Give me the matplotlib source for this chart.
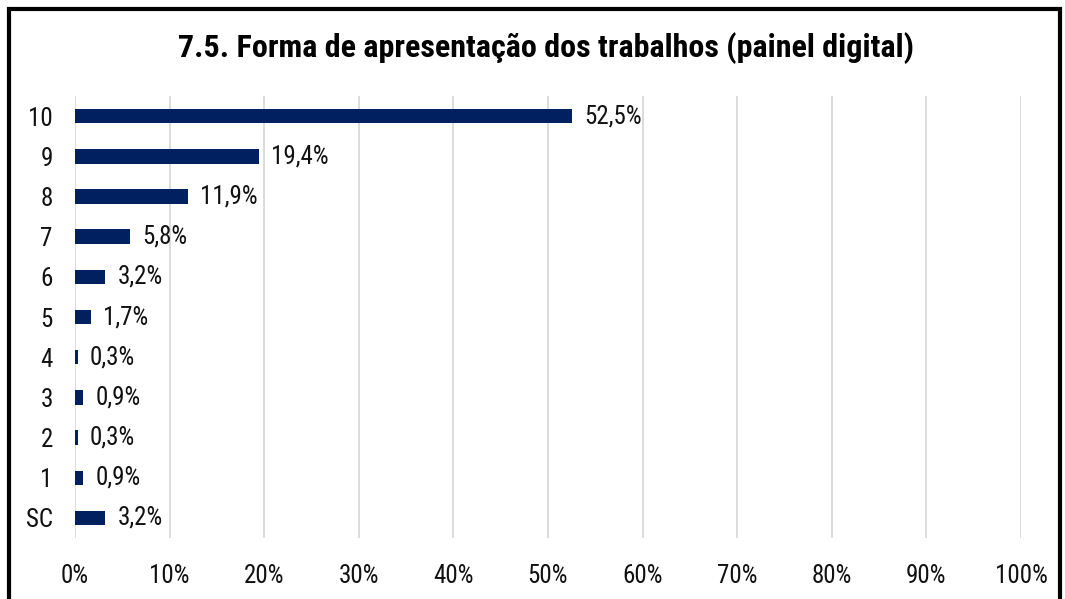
import matplotlib
matplotlib.use("Agg")
import matplotlib.pyplot as plt
from matplotlib.patches import Rectangle

categories = ["SC", "1", "2", "3", "4", "5", "6", "7", "8", "9", "10"]
values = [3.2, 0.9, 0.3, 0.9, 0.3, 1.7, 3.2, 5.8, 11.9, 19.4, 52.5]
xticks = [0, 10, 20, 30, 40, 50, 60, 70, 80, 90, 100]
title = "7.5. Forma de apresentação dos trabalhos (painel digital)"

plt.rcParams['font.family'] = ["Roboto Condensed", "Archivo Narrow", "DejaVu Sans"]
title_family = ["Roboto Condensed", "Asap Condensed", "DejaVu Sans"]

fig = plt.figure(figsize=(10.65, 5.99), dpi=100)
ax = fig.add_axes([0.0704, 0.1018, 0.8883, 0.7379])

navy = "#002060"
fs = 18
y = list(range(len(categories)))
ax.barh(y, values, height=0.36, color=navy, zorder=3)
for yi, v in zip(y, values):
    ax.text(v + 1.3, yi, f"{v:.1f}%".replace(".", ","), va="center", ha="left",
            fontsize=fs, color="#111111")

ax.set_xlim(0, 100)
ax.set_ylim(-0.5, len(categories) - 0.5)
ax.set_yticks(y)
ax.set_yticklabels(categories, fontsize=fs)
ax.set_xticks(xticks)
ax.set_xticklabels([f"{t}%" for t in xticks], fontsize=fs)
ax.tick_params(axis="both", length=0, colors="#111111")
ax.tick_params(axis="y", pad=16)
ax.tick_params(axis="x", pad=19)
ax.grid(axis="x", color="#d9d9d9", linewidth=1.3, zorder=0)
for s in ax.spines.values():
    s.set_visible(False)

fig.text(0.5127, 0.919, title, ha="center", va="center", fontsize=23,
         fontweight="bold", color="#000000", family=title_family)

fig.patches.append(Rectangle((9 / 1065, -0.05), (1060 - 9) / 1065, 1.05 - 9 / 599,
                             transform=fig.transFigure, fill=False,
                             edgecolor="black", linewidth=3, zorder=10))

fig.savefig("out.png", dpi=100)
